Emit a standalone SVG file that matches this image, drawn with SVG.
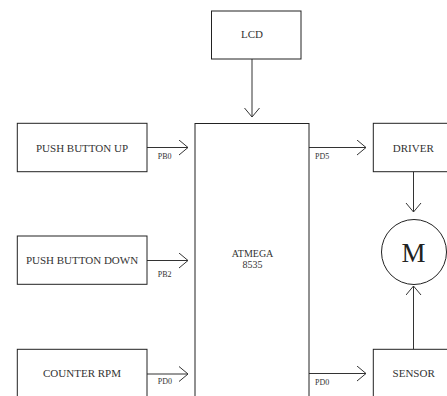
<svg xmlns="http://www.w3.org/2000/svg" width="447" height="396" viewBox="0 0 447 396">
<style>
.box{fill:#fff;stroke:#222;stroke-width:1}
.t{font-family:"Liberation Serif",serif;font-size:11px;fill:#333;text-anchor:middle}
.lbl{font-family:"Liberation Serif",serif;font-size:8px;fill:#333}
.c{stroke:#333;stroke-width:1;fill:none;marker-end:url(#arr)}
</style>
<defs>
<marker id="arr" markerUnits="userSpaceOnUse" markerWidth="12" markerHeight="18" refX="10" refY="8" orient="auto">
<path d="M1,0.5 L10,8 L1,15.5" fill="none" stroke="#333" stroke-width="1"/>
</marker>
</defs>
<rect width="447" height="396" fill="#fff"/>
<g id="connectors">
<line class="c" x1="252" y1="59" x2="252" y2="117"/>
<line class="c" x1="147" y1="147.5" x2="188" y2="147.5"/>
<line class="c" x1="147" y1="260.5" x2="188" y2="260.5"/>
<line class="c" x1="147" y1="374" x2="188" y2="374"/>
<line class="c" x1="309" y1="147.5" x2="366" y2="147.5"/>
<line class="c" x1="309" y1="373.5" x2="366" y2="373.5"/>
<line class="c" x1="413.5" y1="171.7" x2="413.5" y2="212"/>
<line class="c" x1="413.5" y1="349.3" x2="413.5" y2="286"/>
<text class="lbl" x="157.7" y="159">PB0</text>
<text class="lbl" x="157.7" y="276.7">PB2</text>
<text class="lbl" x="157.7" y="383.5">PD0</text>
<text class="lbl" x="315" y="158.5">PD5</text>
<text class="lbl" x="315" y="384.5">PD0</text>
</g>
<g id="lcd">
<rect class="box" x="211.5" y="11" width="89.5" height="48"/>
<text class="t" x="252" y="37.5">LCD</text>
</g>
<g id="push-button-up">
<rect class="box" x="17.3" y="123.3" width="129.7" height="48.4"/>
<text class="t" x="82" y="151.5">PUSH BUTTON UP</text>
</g>
<g id="push-button-down">
<rect class="box" x="17.3" y="236" width="129.7" height="48.3"/>
<text class="t" x="82" y="264">PUSH BUTTON DOWN</text>
</g>
<g id="counter-rpm">
<rect class="box" x="17.3" y="349.3" width="129.7" height="60"/>
<text class="t" x="82" y="377">COUNTER RPM</text>
</g>
<g id="atmega">
<rect class="box" x="195" y="123.5" width="114" height="290"/>
<text class="t" x="252.5" y="257" style="font-size:10px">ATMEGA</text>
<text class="t" x="252.5" y="267.5" style="font-size:10px">8535</text>
</g>
<g id="driver">
<rect class="box" x="373.3" y="123.3" width="90" height="48.4"/>
<text class="t" x="413.3" y="152">DRIVER</text>
</g>
<g id="motor">
<circle class="box" cx="414" cy="252" r="32.5"/>
<text x="413.5" y="261.7" style="font-family:'Liberation Serif',serif;font-size:27px;fill:#222;text-anchor:middle">M</text>
</g>
<g id="sensor">
<rect class="box" x="373.3" y="349.3" width="90" height="60"/>
<text class="t" x="413.7" y="377">SENSOR</text>
</g>
</svg>
